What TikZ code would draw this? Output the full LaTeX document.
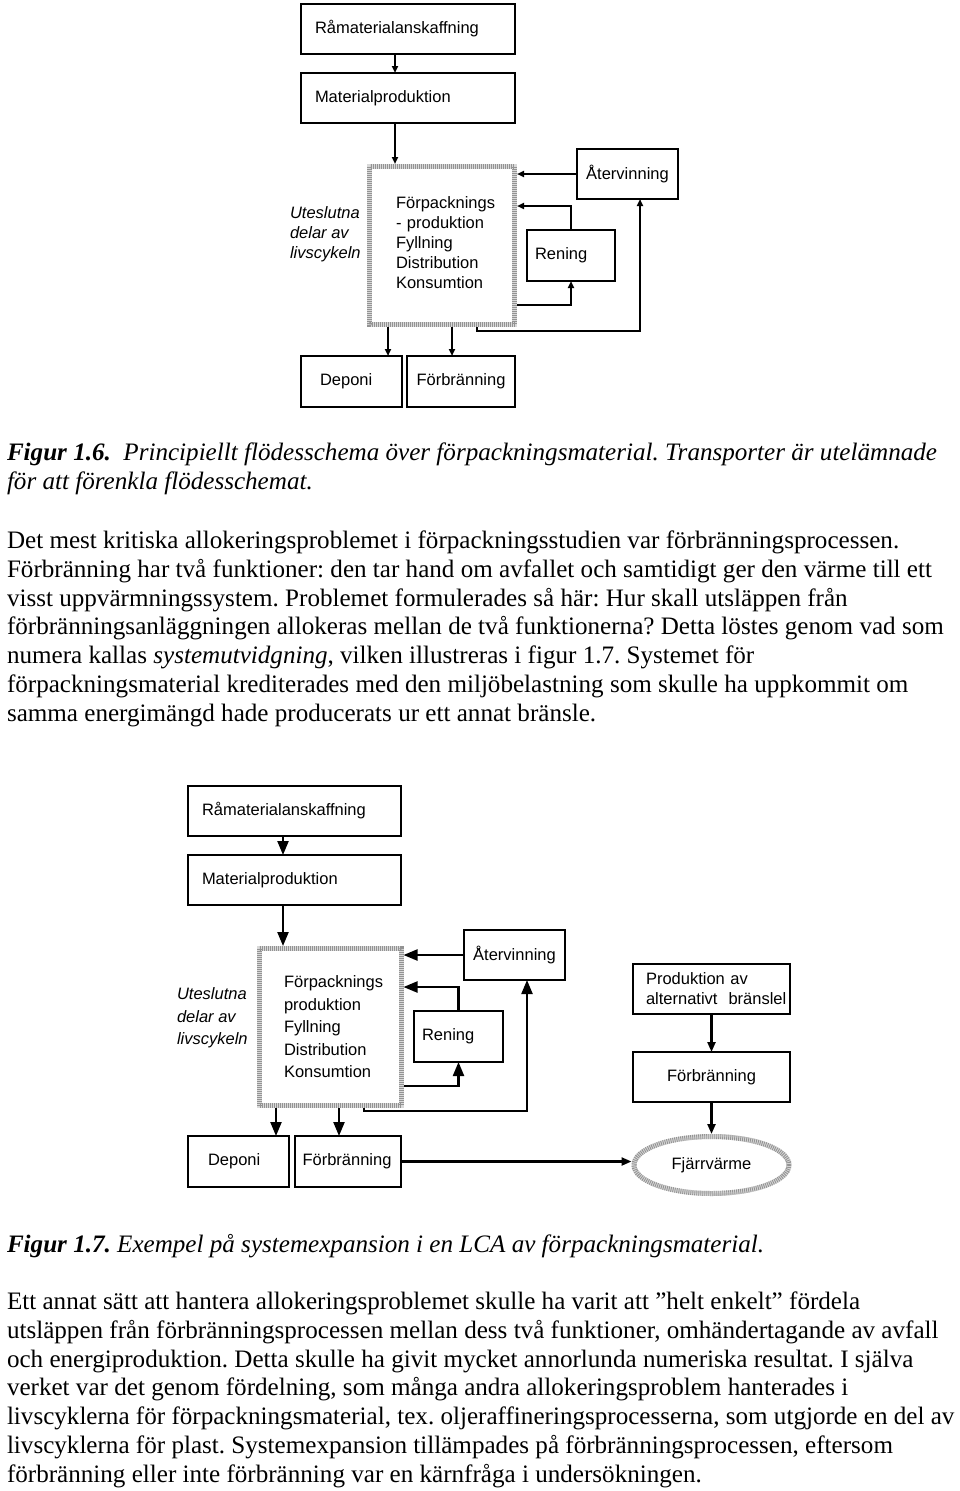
\documentclass[tikz,border=0pt]{standalone}
\usepackage{fontspec}
\setmainfont{Liberation Serif}
\newfontfamily\arialf{Liberation Sans}
\usetikzlibrary{arrows.meta,shapes.geometric,calc}
\frenchspacing
\begin{document}
\frenchspacing
\begin{tikzpicture}[x=1pt,y=-1pt,
 every node/.style={inner sep=0pt, outer sep=0pt},
 df/.style={font=\arialf\fontsize{16.5}{20}\selectfont},
 df2/.style={font=\arialf\fontsize{16.5}{22.5}\selectfont},
 bx/.style={draw, line width=1.8pt, anchor=north west, df},
 hatchbase/.style={line width=5pt, draw=gray!30},
 hatchline/.style={line width=5pt, draw=gray!85, dash pattern=on 0.9pt off 1.1pt},
 arA/.style={line width=1.8pt, -{Triangle[length=7pt,width=6pt]}},
 arB/.style={line width=2.2pt, -{Triangle[length=14pt,width=11pt]}},
 arC/.style={line width=2.2pt, -{Triangle[length=10pt,width=8pt]}},
 bodytext/.style={anchor=base west, font=\fontsize{25.1}{29}\selectfont},
]
\useasboundingbox (0,0) rectangle (960,1491);
\fill[white] (0,0) rectangle (960,1491);

% ---------- Figure 1.6 ----------
\node[bx, minimum height=50, text width=186, inner xsep=14, align=left] (a1) at (301,4) {Råmaterialanskaffning};
\node[bx, minimum height=50, text width=186, inner xsep=14, align=left] (a2) at (301,73) {Materialproduktion};
\node[anchor=north west, minimum height=163, text width=92, inner xsep=29, align=left, df] (a3) at (367,164) {\mbox{Förpacknings}\\- produktion\\Fyllning\\Distribution\\Konsumtion\\[-13.5pt]\mbox{}};
\draw[hatchbase] ([shift={(2.5,2.5)}]a3.north west) rectangle ([shift={(-2.5,-2.5)}]a3.south east);
\draw[hatchline] ([shift={(2.5,2.5)}]a3.north west) rectangle ([shift={(-2.5,-2.5)}]a3.south east);
\node[bx, minimum width=101, minimum height=50, align=center] (a4) at (577,149) {Återvinning};
\node[bx, minimum height=51, text width=72, inner xsep=8, align=left] (a5) at (527,230) {Rening};
\node[bx, minimum height=51, text width=63, inner xsep=19, align=left] (a6) at (301,356) {Deponi};
\node[bx, minimum width=108, minimum height=51, align=center] (a7) at (407,356) {Förbränning};
\node[anchor=west, align=left, font=\arialf\itshape\fontsize{16.5}{20}\selectfont] (u1) at (290,234) {Uteslutna\\delar av\\livscykeln};

\coordinate (p1) at ([xshift=94pt]a1.south west);
\draw[arA] (p1) -- (p1 |- a2.north);
\coordinate (p2) at ([xshift=94pt]a2.south west);
\draw[arA] (p2) -- (p2 |- a3.north);
\draw[arA] (a4.west) -- (a4.west -| a3.east);
\coordinate (p3) at ([yshift=-42pt]a3.north east);
\draw[arA] (a5.north) |- (p3);
\coordinate (p4) at ([yshift=-141pt]a3.north east);
\draw[arA] (p4) -| (a5.south);
\coordinate (p5) at ([xshift=110pt]a3.south west);
\coordinate (p6) at ([xshift=12.5pt]a4.south);
\draw[arA] (p5) -- ++(0,4) -| (p6);
\coordinate (p7) at ([xshift=21pt]a3.south west);
\draw[arA] (p7) -- (p7 |- a6.north);
\coordinate (p8) at ([xshift=85pt]a3.south west);
\draw[arA] (p8) -- (p8 |- a7.north);

% ---------- Text ----------
\node[bodytext] (t1) at (7,460) {\textbf{\textit{Figur 1.6.}}\ \ \textit{Principiellt flödesschema över förpackningsmaterial. Transporter är utelämnade}};
\node[bodytext] (t2) at (7,489) {\textit{för att förenkla flödesschemat.}};
\node[bodytext] (t3) at (7,548) {Det mest kritiska allokeringsproblemet i förpackningsstudien var förbränningsprocessen.};
\node[bodytext] (t4) at (7,577) {Förbränning har två funktioner: den tar hand om avfallet och samtidigt ger den värme till ett};
\node[bodytext] (t5) at (7,606) {visst uppvärmningssystem. Problemet formulerades så här: Hur skall utsläppen från};
\node[bodytext] (t6) at (7,634) {förbränningsanläggningen allokeras mellan de två funktionerna? Detta löstes genom vad som};
\node[bodytext] (t7) at (7,663) {numera kallas \textit{systemutvidgning}, vilken illustreras i figur 1.7. Systemet för};
\node[bodytext] (t8) at (7,692) {förpackningsmaterial krediterades med den miljöbelastning som skulle ha uppkommit om};
\node[bodytext] (t9) at (7,721) {samma energimängd hade producerats ur ett annat bränsle.};

% ---------- Figure 1.7 ----------
\node[bx, minimum height=50, text width=185, inner xsep=14, align=left] (b1) at (188,786) {Råmaterialanskaffning};
\node[bx, minimum height=50, text width=185, inner xsep=14, align=left] (b2) at (188,855) {Materialproduktion};
\node[anchor=north west, minimum height=162, text width=92, inner xsep=27.5, align=left, df2] (b3) at (256.5,946) {\mbox{Förpacknings}\\produktion\\Fyllning\\Distribution\\Konsumtion};
\draw[hatchbase] ([shift={(2.5,2.5)}]b3.north west) rectangle ([shift={(-2.5,-2.5)}]b3.south east);
\draw[hatchline] ([shift={(2.5,2.5)}]b3.north west) rectangle ([shift={(-2.5,-2.5)}]b3.south east);
\node[bx, minimum width=101, minimum height=50, align=center] (b4) at (464,930) {Återvinning};
\node[bx, minimum height=51, text width=73, inner xsep=8, align=left] (b5) at (414,1011) {Rening};
\node[bx, minimum height=51, text width=61, inner xsep=20, align=left] (b6) at (188,1136) {Deponi};
\node[bx, minimum height=51, text width=91, inner xsep=7.5, align=left] (b7) at (295,1136) {Förbränning};
\node[bx, minimum height=50, text width=131, inner xsep=13, align=left] (b8) at (633,964) {Produktion av\\\mbox{alternativt\ \ bränslel}};
\node[bx, minimum width=157, minimum height=50, align=center] (b9) at (633,1052) {Förbränning};
\node[ellipse, minimum width=160, minimum height=62, df] (b10) at (711.5,1165) {Fjärrvärme};
\draw[hatchbase] (b10.center) ellipse [x radius=77.5, y radius=28.5];
\draw[hatchline] (b10.center) ellipse [x radius=77.5, y radius=28.5];
\node[anchor=west, align=left, font=\arialf\itshape\fontsize{16.5}{22.5}\selectfont] (u2) at (177,1018) {Uteslutna\\delar av\\livscykeln};

\coordinate (q1) at ([xshift=95pt]b1.south west);
\draw[arB] (q1) -- (q1 |- b2.north);
\coordinate (q2) at ([xshift=95pt]b2.south west);
\draw[arB] (q2) -- (q2 |- b3.north);
\draw[arB] (b4.west) -- (b4.west -| b3.east);
\coordinate (q3) at ([yshift=-41pt]b3.north east);
\draw[arB] (b5.north) |- (q3);
\coordinate (q4) at ([yshift=-140pt]b3.north east);
\draw[arB] (q4) -| (b5.south);
\coordinate (q5) at ([xshift=107.5pt]b3.south west);
\coordinate (q6) at ([xshift=12.5pt]b4.south);
\draw[arB] (q5) -- ++(0,3) -| (q6);
\coordinate (q7) at ([xshift=19.5pt]b3.south west);
\draw[arB] (q7) -- (q7 |- b6.north);
\coordinate (q8) at ([xshift=82.5pt]b3.south west);
\draw[arB] (q8) -- (q8 |- b7.north);
\draw[arC] (b7.east) -- (b7.east -| b10.west);
\draw[arC] (b8.south) -- (b9.north);
\draw[arC] (b9.south) -- (b10.north);

% ---------- Text ----------
\node[bodytext] (t10) at (7,1252) {\textbf{\textit{Figur 1.7.}}\ \textit{Exempel på systemexpansion i en LCA av förpackningsmaterial.}};
\node[bodytext] (t11) at (7,1309) {Ett annat sätt att hantera allokeringsproblemet skulle ha varit att ”helt enkelt” fördela};
\node[bodytext] (t12) at (7,1338) {utsläppen från förbränningsprocessen mellan dess två funktioner, omhändertagande av avfall};
\node[bodytext] (t13) at (7,1367) {och energiproduktion. Detta skulle ha givit mycket annorlunda numeriska resultat. I själva};
\node[bodytext] (t14) at (7,1395) {verket var det genom fördelning, som många andra allokeringsproblem hanterades i};
\node[bodytext] (t15) at (7,1424) {livscyklerna för förpackningsmaterial, tex. oljeraffineringsprocesserna, som utgjorde en del av};
\node[bodytext] (t16) at (7,1453) {livscyklerna för plast. Systemexpansion tillämpades på förbränningsprocessen, eftersom};
\node[bodytext] (t17) at (7,1482) {förbränning eller inte förbränning var en kärnfråga i undersökningen.};
\end{tikzpicture}
\end{document}
